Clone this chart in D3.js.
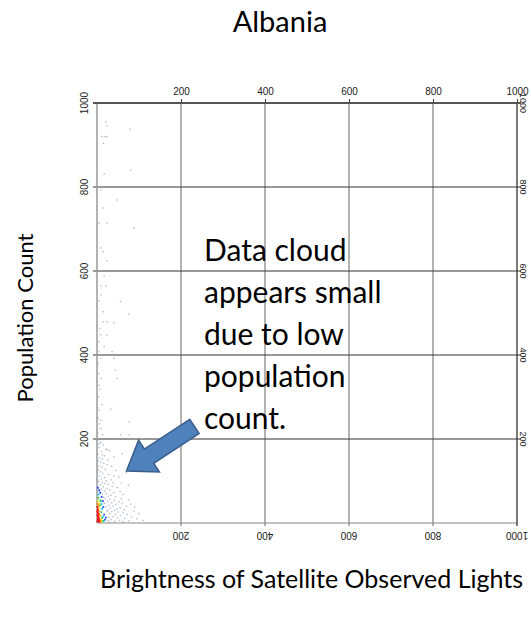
<!DOCTYPE html>
<html>
<head>
<meta charset="utf-8">
<script src="https://cdn.jsdelivr.net/npm/d3@7/dist/d3.min.js"></script>
<style>
  html, body { margin: 0; padding: 0; background: #fff; }
  svg { display: block; }
</style>
</head>
<body>
<svg id="chart" width="531" height="619"></svg>
<script>
// Axis ticks (both axes share the same 0–1000 range)
const tickValues = [200, 400, 600, 800, 1000];

// Sparse cells: [brightness, population]
const sparseCells = [
  [21,955],[24,946],[78,938],[12,920],[19,920],[24,920],[15,904],[17,831],[80,840],
  [9,793],[48,769],[15,750],[5,714],[24,714],[88,703],[9,655],[15,646],[24,624],
  [17,588],[21,564],[9,564],[9,543],[56,527],[5,529],[15,503],[76,497],[15,479],
  [24,479],[40,477],[7,463],[9,448],[24,448],[5,432],[17,420],[5,408],[36,408],
  [9,392],[40,392],[44,364],[48,344],[10,344],[5,328],[33,271],[5,269],[9,245],
  [76,241],[9,225],[13,210],[56,210],[76,210],[9,190],[24,174],[13,162],
  [4,300],[3,250],[6,236],[2,215],[12,282],[4,356],[3,380],[7,318]
];

// Dense cells near the origin: [brightness, population]
const denseCells = [
  [3,198],[8,192],[15,185],[5,180],[22,176],[11,170],[2,165],[30,172],[18,160],[7,155],
  [40,158],[13,152],[26,150],[60,165],[4,188],
  [2,148],[9,145],[16,142],[24,139],[5,136],[12,133],[35,135],[20,128],[3,126],[8,122],
  [45,125],[14,118],[28,115],[6,112],[18,108],[52,110],[10,105],[33,103],[2,102],[22,100],
  [70,120],[85,140],[40,112],
  [4,98],[12,96],[19,94],[27,92],[8,90],[36,88],[15,86],[3,84],[24,82],[48,85],[10,80],
  [30,78],[18,76],[6,74],[40,72],[22,70],[13,68],[55,75],[33,66],[27,63],[44,62],[16,61],
  [62,68],[75,90],[38,96],[58,95],
  [20,58],[30,56],[41,54],[25,52],[52,50],[35,48],[18,47],[60,46],[45,44],[28,42],[70,40],
  [38,40],[22,38],[55,36],[32,35],[48,33],[65,32],[80,45],[42,30],[26,31],[90,38],[75,55],
  [58,58],
  [24,28],[35,27],[50,26],[62,24],[30,22],[44,20],[56,18],[72,20],[38,15],[28,14],[48,12],
  [66,11],[82,14],[34,8],[54,6],[42,4],[76,5],[95,10],[100,22],[88,28],[110,6],[62,3],
  [26,5],[30,2]
];

// Densest cells with their density level (0 = low … 5 = high): [brightness, population, level]
const coreCells = [
  [1,4,5],[2,9,5],[3,14,5],[1,18,5],[2,24,5],[4,5,5],[5,10,5],[2,32,5],[1,38,5],[6,3,5],[1,28,5],[3,20,5],
  [4,28,4],[6,16,4],[3,42,4],[8,6,4],[1,46,4],[5,22,4],
  [5,36,3],[8,18,3],[2,52,3],[10,8,3],[6,46,3],[11,3,3],
  [7,42,2],[10,26,2],[3,60,2],[12,12,2],[8,54,2],[13,4,2],
  [9,52,1],[12,34,1],[4,68,1],[14,15,1],[11,45,1],[16,5,1],
  [11,62,0],[15,38,0],[5,78,0],[17,20,0],[14,52,0],[8,72,0],[19,8,0],[21,13,0],[2,84,0]
];
const levelColors = ["#2f4fff", "#00c2e8", "#3cc43c", "#ffe000", "#ff8a00", "#ff0000"];

// Annotation
const noteLines = ["Data cloud", "appears small", "due to low", "population", "count."];
const arrowFrom = [232, 230];   // tail, in data units
const arrowTo = [70, 124];      // tip, in data units

const svg = d3.select("#chart");
const x = d3.scaleLinear().domain([0, 1000]).range([97, 517]);
const y = d3.scaleLinear().domain([0, 1000]).range([523, 103]);

const tickFont = "'Liberation Sans', Arial, sans-serif";
const textFont = "Lato, 'Open Sans', sans-serif";

// Grid lines
const grid = svg.append("g");
grid.selectAll("line.v").data(tickValues.slice(0, -1)).join("line")
  .attr("x1", d => x(d)).attr("x2", d => x(d))
  .attr("y1", y(1000)).attr("y2", y(0) + 3)
  .attr("stroke", "#666").attr("stroke-width", 1);
grid.selectAll("line.h").data(tickValues.slice(0, -1)).join("line")
  .attr("y1", d => y(d)).attr("y2", d => y(d))
  .attr("x1", x(0) - 4).attr("x2", x(1000) + 4)
  .attr("stroke", "#333").attr("stroke-width", 1);

// Frame
svg.append("line").attr("x1", x(0)).attr("x2", x(1000)).attr("y1", y(0)).attr("y2", y(0))
  .attr("stroke", "#888").attr("stroke-width", 1);
svg.append("line").attr("x1", x(0)).attr("x2", x(0)).attr("y1", y(1000)).attr("y2", y(0))
  .attr("stroke", "#999").attr("stroke-width", 1.5);
svg.append("line").attr("x1", x(1000)).attr("x2", x(1000)).attr("y1", y(1000)).attr("y2", y(0) + 3)
  .attr("stroke", "#222").attr("stroke-width", 1.2);
svg.append("line").attr("x1", x(0) - 4).attr("x2", x(1000) + 4).attr("y1", y(1000)).attr("y2", y(1000))
  .attr("stroke", "#555").attr("stroke-width", 2);

// Top axis ticks and labels
const topAxis = svg.append("g").attr("transform", `translate(0,${y(1000)})`)
  .call(d3.axisTop(x).tickValues(tickValues).tickSize(4).tickFormat(d3.format("d")));
topAxis.select(".domain").remove();
topAxis.selectAll(".tick line").attr("stroke", "#444");
topAxis.selectAll(".tick text").attr("font-family", tickFont).attr("font-size", 10).attr("fill", "#222").attr("dy", "-0.1em");

// Bottom labels (upside down)
svg.append("g").selectAll("text").data(tickValues).join("text")
  .attr("transform", d => `translate(${x(d)},${y(0) + 8}) rotate(180)`)
  .attr("text-anchor", "middle").attr("dy", "-0.05em")
  .attr("font-family", tickFont).attr("font-size", 10).attr("fill", "#222")
  .text(d => d);

// Left labels (rotated)
svg.append("g").selectAll("text").data(tickValues).join("text")
  .attr("transform", d => `translate(${x(0) - 9},${y(d)}) rotate(-90)`)
  .attr("text-anchor", "middle")
  .attr("font-family", tickFont).attr("font-size", 10).attr("fill", "#222")
  .text(d => d);

// Right labels (rotated the other way), kept inside the canvas edge
svg.append("g").selectAll("text").data(tickValues).join("text")
  .attr("transform", d => `translate(${x(1000) + 3},${y(d)}) rotate(90)`)
  .attr("text-anchor", "middle")
  .attr("font-family", tickFont).attr("font-size", 9).attr("fill", "#222")
  .text(d => d);

// Data cells
const cells = svg.append("g");
cells.selectAll("rect.s").data(sparseCells.concat(denseCells)).join("rect")
  .attr("x", d => x(d[0]) - 0.7).attr("y", d => y(d[1]) - 0.7)
  .attr("width", 1.4).attr("height", 1.4)
  .attr("fill", "#8a90ad").attr("opacity", 0.6);
cells.selectAll("rect.c").data(coreCells.slice().sort((a, b) => a[2] - b[2])).join("rect")
  .attr("x", d => x(d[0]) - 0.9).attr("y", d => y(d[1]) - 0.9)
  .attr("width", 1.8).attr("height", 1.8)
  .attr("fill", d => levelColors[d[2]]);

// Block arrow
(function () {
  const x0 = x(arrowFrom[0]), y0 = y(arrowFrom[1]);
  const x1 = x(arrowTo[0]), y1 = y(arrowTo[1]);
  const dx = x1 - x0, dy = y1 - y0, len = Math.hypot(dx, dy);
  const ux = dx / len, uy = dy / len, px = -uy, py = ux;
  const shaftW = 17, headW = 38, headL = 27;
  const bx = x1 - ux * headL, by = y1 - uy * headL;
  const pts = [
    [x0 + px * shaftW / 2, y0 + py * shaftW / 2],
    [bx + px * shaftW / 2, by + py * shaftW / 2],
    [bx + px * headW / 2, by + py * headW / 2],
    [x1, y1],
    [bx - px * headW / 2, by - py * headW / 2],
    [bx - px * shaftW / 2, by - py * shaftW / 2],
    [x0 - px * shaftW / 2, y0 - py * shaftW / 2]
  ];
  svg.append("path").attr("d", d3.line()(pts) + "Z")
    .attr("fill", "#4f81bd").attr("stroke", "#385d8a").attr("stroke-width", 1.5)
    .attr("stroke-linejoin", "miter");
})();

// Note text
svg.append("g").selectAll("text").data(noteLines).join("text")
  .attr("x", 204).attr("y", (d, i) => 261 + i * 42)
  .attr("font-family", textFont).attr("font-size", 30).attr("fill", "#000")
  .text(d => d);

// Title and axis titles
svg.append("text").attr("x", 280).attr("y", 32).attr("text-anchor", "middle")
  .attr("font-family", textFont).attr("font-size", 29).attr("fill", "#000").text("Albania");
svg.append("text").attr("transform", "translate(33,318) rotate(-90)").attr("text-anchor", "middle")
  .attr("font-family", textFont).attr("font-size", 22).attr("fill", "#000").text("Population Count");
svg.append("text").attr("x", 100).attr("y", 588)
  .attr("font-family", textFont).attr("font-size", 25).attr("fill", "#000").text("Brightness of Satellite Observed Lights");
</script>
</body>
</html>
